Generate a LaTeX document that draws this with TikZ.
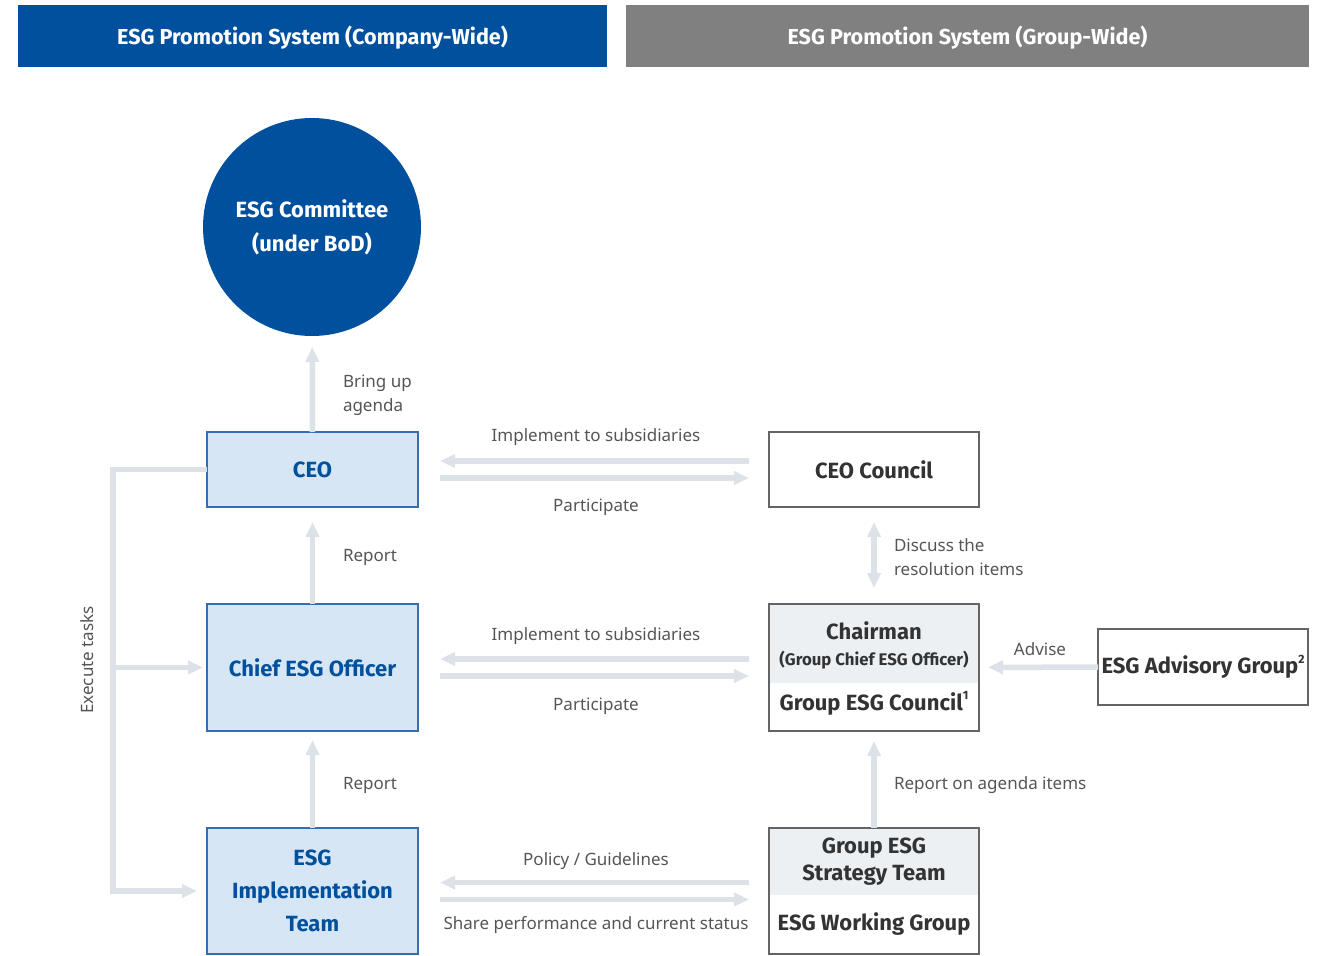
\documentclass[tikz,border=0pt]{standalone}
\usepackage{fontspec}
\setmainfont{Noto Sans}
\newfontfamily\boldfam{Fira Sans}
\usetikzlibrary{arrows.meta,calc}

\definecolor{esgblue}{RGB}{0,80,157}
\definecolor{headgray}{RGB}{128,128,128}
\definecolor{boxblue}{RGB}{214,230,245}
\definecolor{boxline}{RGB}{50,110,180}
\definecolor{arrowgray}{RGB}{220,226,232}
\definecolor{groupfill}{RGB}{237,240,243}
\definecolor{groupline}{RGB}{100,100,100}
\definecolor{darktext}{RGB}{51,51,51}
\definecolor{labeltext}{RGB}{85,85,85}

\newcommand{\fnmark}[1]{\raisebox{0.9ex}{\fontsize{6}{6}\selectfont #1}}

\begin{document}
\begin{tikzpicture}[x=0.5pt, y=-0.5pt, inner sep=0pt, outer sep=0pt,
		head_style/.style={rectangle, minimum height=31pt, text=white, font=\boldfam\bfseries\fontsize{10.8}{12}\selectfont},
		blue_box/.style={rectangle, draw=boxline, line width=0.6pt, fill=boxblue, minimum width=105.5pt, text=esgblue, align=center, font=\boldfam\bfseries\fontsize{11}{16.5}\selectfont},
		group_box/.style={rectangle, draw=groupline, line width=0.6pt, fill=white, minimum width=105pt, text=darktext, align=center, font=\boldfam\bfseries\fontsize{11}{13.5}\selectfont},
		group_text/.style={text=darktext, align=center, font=\boldfam\bfseries\fontsize{11}{13.5}\selectfont},
		label_style/.style={text=labeltext, align=left, anchor=west, font=\fontsize{8.5}{12}\selectfont},
		flow/.style={draw=arrowgray, line width=2.75pt, -{Triangle[length=7.5pt,width=6.5pt]}},
		both_flow/.style={draw=arrowgray, line width=2.75pt, {Triangle[length=7.5pt,width=6.5pt]}-{Triangle[length=7.5pt,width=6.5pt]}}]

		\useasboundingbox (0,0) rectangle (1325,956);

		% headers
		\fill[esgblue] (18,5) rectangle (607,67);
		\fill[headgray] (626,5) rectangle (1309,67);
		\node[head_style] (headCompany) at (312.5,37.5) {ESG Promotion System (Company-Wide)};
		\node[head_style] (headGroup) at (967.5,37.5) {ESG Promotion System (Group-Wide)};

		% company-wide side
		\node[circle, fill=esgblue, minimum size=109pt, text=white, align=center, font=\boldfam\bfseries\fontsize{11}{17}\selectfont] (committee) at (312,227) {ESG Committee\\(under BoD)};
		\node[blue_box, minimum height=37.5pt] (ceo) at (312.5,469.5) {CEO};
		\node[blue_box, minimum height=63.5pt] (cso) at (312.5,667.5) {Chief ESG Officer};
		\node[blue_box, minimum height=63pt] (impl) at (312.5,891) {ESG\\Implementation\\Team};

		% group-wide side
		\node[group_box, minimum height=37.5pt] (council) at (874,469.5) {CEO Council};
		\node[group_box, minimum height=63.5pt,
			path picture={\fill[groupfill] (path picture bounding box.north west) rectangle ($(path picture bounding box.north east)+(0,79)$);}] (chair) at (874,667.5) {};
		\node[group_text] (chairName) at (874,630.5) {Chairman};
		\node[group_text, font=\boldfam\bfseries\fontsize{8.4}{9}\selectfont] (chairRole) at (874,660.5) {(Group Chief ESG Officer)};
		\node[group_text] (chairCouncil) at (874,703.5) {Group ESG Council\fnmark{1}};
		\node[group_box, minimum height=38pt] (advisory) at (1203,667) {ESG Advisory Group\fnmark{2}};
		\node[group_box, minimum height=63pt,
			path picture={\fill[groupfill] (path picture bounding box.north west) rectangle ($(path picture bounding box.north east)+(0,67)$);}] (strategy) at (874,891) {};
		\node[group_text] (strategyTeam) at (874,862) {Group ESG\\Strategy Team};
		\node[group_text] (workingGroup) at (874,924.5) {ESG Working Group};

		% vertical flows
		\draw[flow, shorten >=5.5pt] (ceo) -- (committee);
		\draw[flow, shorten >=7.5pt] (cso) -- (ceo);
		\draw[flow, shorten >=4.5pt] (impl) -- (cso);
		\draw[both_flow, shorten <=7.5pt, shorten >=8pt] (council) -- (chair);
		\draw[flow, shorten >=5pt] (strategy) -- (chair);
		\draw[flow, shorten >=4.5pt] (advisory) -- (chair);

		% horizontal flows
		\draw[flow, shorten <=10pt, shorten >=11pt] ($(council.west)+(0,-8.5)$) -- ($(ceo.east)+(0,-8.5)$);
		\draw[flow, shorten <=11pt, shorten >=10pt] ($(ceo.east)+(0,8.5)$) -- ($(council.west)+(0,8.5)$);
		\draw[flow, shorten <=10pt, shorten >=11pt] ($(chair.west)+(0,-8.5)$) -- ($(cso.east)+(0,-8.5)$);
		\draw[flow, shorten <=11pt, shorten >=10pt] ($(cso.east)+(0,8.5)$) -- ($(chair.west)+(0,8.5)$);
		\draw[flow, shorten <=10pt, shorten >=11pt] ($(strategy.west)+(0,-8.5)$) -- ($(impl.east)+(0,-8.5)$);
		\draw[flow, shorten <=11pt, shorten >=10pt] ($(impl.east)+(0,8.5)$) -- ($(strategy.west)+(0,8.5)$);

		% execute tasks
		\coordinate (bus) at (113,0);
		\draw[flow, shorten >=5pt] (ceo.west) -- (ceo.west -| bus) |- (impl.west);
		\draw[flow, shorten >=2pt] (cso.west -| bus) -- (cso.west);

		% labels
		\node[label_style] (lblAgenda) at (343,395) {Bring up\\agenda};
		\node[label_style] (lblReport1) at (343,557) {Report};
		\node[label_style] (lblReport2) at (343,785) {Report};
		\node[label_style, anchor=center] (lblImpl1) at (596,437) {Implement to subsidiaries};
		\node[label_style, anchor=center] (lblPart1) at (596,507) {Participate};
		\node[label_style, anchor=center] (lblImpl2) at (596,636) {Implement to subsidiaries};
		\node[label_style, anchor=center] (lblPart2) at (596,706) {Participate};
		\node[label_style, anchor=center] (lblPolicy) at (596,861) {Policy / Guidelines};
		\node[label_style, anchor=center] (lblShare) at (596,925) {Share performance and current status};
		\node[label_style] (lblDiscuss) at (894,557) {Discuss the\\resolution items};
		\node[label_style] (lblAgendaItems) at (894,785) {Report on agenda items};
		\node[label_style, anchor=center] (lblAdvise) at (1040,649) {Advise};
		\node[label_style, anchor=center, rotate=90] (lblExecute) at (87,660) {Execute tasks};

\end{tikzpicture}
\end{document}
